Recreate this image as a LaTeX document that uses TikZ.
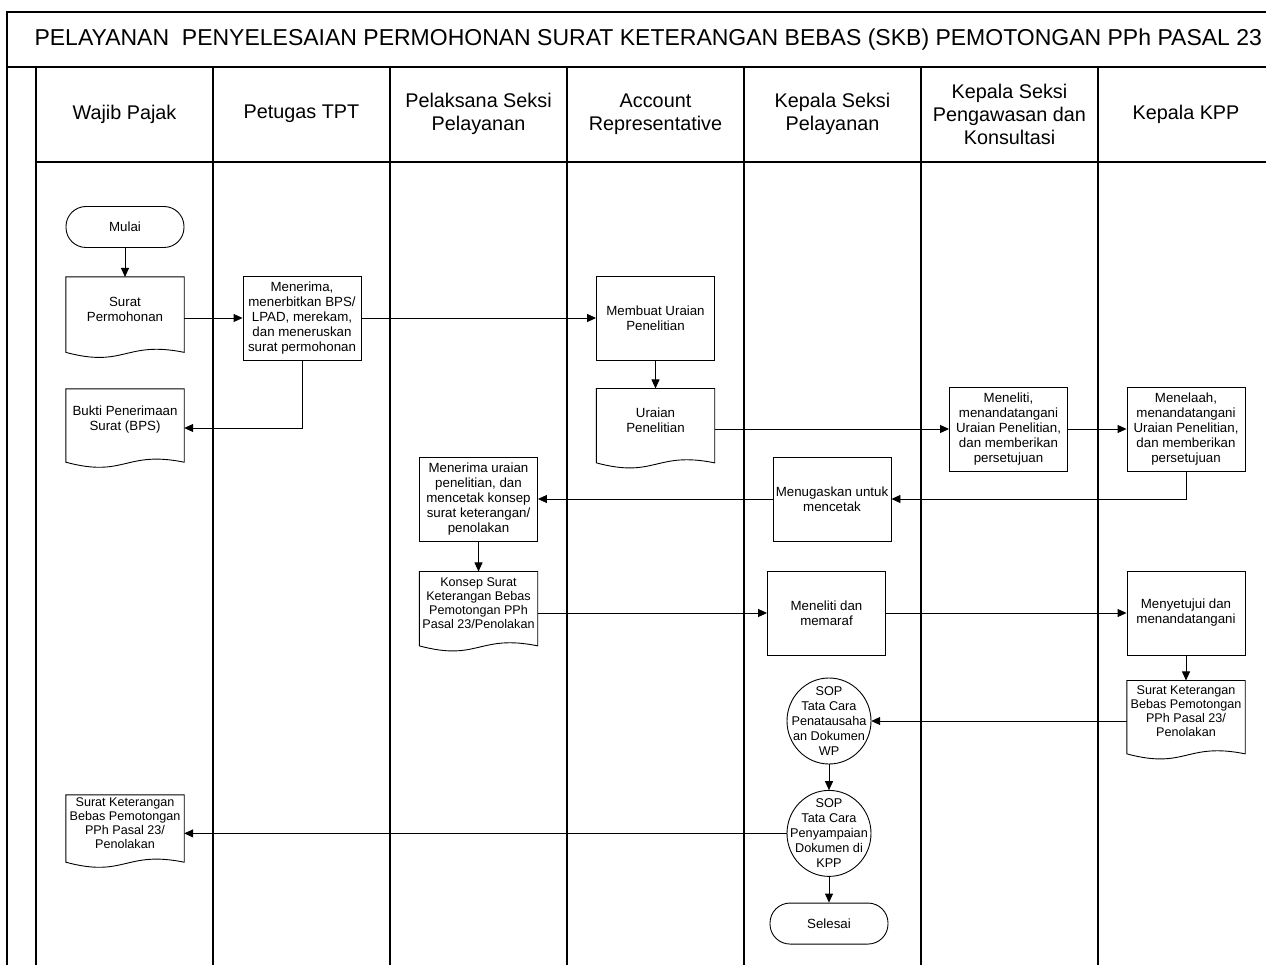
\documentclass[tikz,border=0pt]{standalone}
\usepackage{fontspec}
\setmainfont{Liberation Sans}
\usetikzlibrary{positioning,arrows.meta}

\begin{document}
\begin{tikzpicture}[
  x=1pt, y=-1pt,
  node distance=28pt,
  lane/.style={line width=1.4pt},
  proses/.style={rectangle, draw, line width=0.9pt, minimum width=118pt, minimum height=84pt,
                 align=center, inner sep=1pt, font=\fontsize{13.3}{15}\selectfont},
  dokumen/.style={rectangle, minimum width=118pt, minimum height=62pt,
                  align=center, inner sep=1pt, font=\fontsize{13.3}{15}\selectfont},
  terminal/.style={rectangle, draw, line width=0.9pt, rounded corners=20pt,
                   minimum width=118pt, minimum height=41pt, font=\fontsize{13.3}{15}\selectfont},
  sop/.style={rectangle, minimum width=84pt, minimum height=86pt, inner sep=0pt,
              align=center, font=\fontsize{12.7}{15}\selectfont},
  kepala/.style={align=center, font=\fontsize{19.8}{23}\selectfont},
  kecil/.style={font=\fontsize{12.6}{14}\selectfont},
  arr/.style={-{Triangle[length=9pt,width=8pt]}, line width=0.9pt}
]
\useasboundingbox (0,0) rectangle (1266,965);

\draw[lane] (1266,12) -- (7,12) -- (7,965);
\draw[lane] (7,67) -- (1266,67);
\draw[lane] (36,67) -- (36,965);
\draw[lane] (36,162) -- (1266,162);
\foreach \x in {213,390,567,744,921,1098}
  \draw[lane] (\x,67) -- (\x,965);

\node[anchor=west, font=\fontsize{23}{27}\selectfont] (judul) at (31,40)
  {PELAYANAN\ \ PENYELESAIAN PERMOHONAN SURAT KETERANGAN BEBAS (SKB) PEMOTONGAN PPh PASAL 23};

\node[kepala] (hwp) at (124.5,114) {Wajib Pajak};
\node[kepala] (htpt) at (301.5,114) {Petugas TPT};
\node[kepala] (hpel) at (478.5,114) {Pelaksana Seksi\\Pelayanan};
\node[kepala] (har) at (655.5,114) {Account\\Representative};
\node[kepala] (hksp) at (832.5,114) {Kepala Seksi\\Pelayanan};
\node[kepala] (hkspk) at (1009.5,114) {Kepala Seksi\\Pengawasan dan\\Konsultasi};
\node[kepala] (hkpp) at (1186,114) {Kepala KPP};

\node[terminal] (mulai) at (125,227) {Mulai};
\node[dokumen, below=29pt of mulai, minimum height=64pt] (mohon) {Surat\\Permohonan};
\node[dokumen] (bukti) at (125,420) {Bukti Penerimaan\\Surat (BPS)};
\node[proses] (tpt) at (302,318) {Menerima,\\menerbitkan BPS/\\LPAD, merekam,\\dan meneruskan\\surat permohonan};
\node[proses] (membuat) at (655.5,318) {Membuat Uraian\\Penelitian};
\node[dokumen, below=of membuat, minimum height=63pt] (uraian) {Uraian\\Penelitian};
\node[proses] (teliti) at (1008.5,429) {Meneliti,\\menandatangani\\Uraian Penelitian,\\dan memberikan\\persetujuan};
\node[proses] (telaah) at (1186,429) {Menelaah,\\menandatangani\\Uraian Penelitian,\\dan memberikan\\persetujuan};
\node[proses] (tugas) at (832,499) {Menugaskan untuk\\mencetak};
\node[proses] (terima) at (478.5,499) {Menerima uraian\\penelitian, dan\\mencetak konsep\\surat keterangan/\\penolakan};
\node[dokumen, kecil, below=30pt of terima, minimum height=63pt] (konsep) {Konsep Surat\\Keterangan Bebas\\Pemotongan PPh\\Pasal 23/Penolakan};
\node[proses] (paraf) at (826.5,613) {Meneliti dan\\memaraf};
\node[proses] (setuju) at (1186,613) {Menyetujui dan\\menandatangani};
\node[dokumen, kecil, below=25pt of setuju] (skbkpp) {Surat Keterangan\\Bebas Pemotongan\\PPh Pasal 23/\\Penolakan};
\node[sop] (sop1) at (829,721) {SOP\\Tata Cara\\Penatausaha\\an Dokumen\\WP};
\node[sop, below=26pt of sop1] (sop2) {SOP\\Tata Cara\\Penyampaian\\Dokumen di\\KPP};
\node[terminal, below=26pt of sop2] (selesai) {Selesai};
\node[dokumen, kecil, minimum height=56pt] (skbwp) at (125,823) {Surat Keterangan\\Bebas Pemotongan\\PPh Pasal 23/\\Penolakan};

\foreach \d in {mohon,bukti,uraian,konsep,skbkpp,skbwp}
  \draw[line width=0.9pt] (\d.north west) -- (\d.north east) -- ([yshift=-11pt]\d.south east)
    .. controls ([yshift=1pt]\d.south) and ([yshift=-27pt]\d.south) .. ([yshift=-11pt]\d.south west) -- cycle;
\foreach \s in {sop1,sop2}
  \draw[line width=0.9pt] (\s.center) ellipse [x radius=42pt, y radius=43pt];

\draw[arr] (mulai) -- (mohon);
\draw[arr] (mohon.east |- tpt.west) -- (tpt.west);
\draw[arr] (tpt) -- (membuat);
\draw[arr] (tpt.south) |- ([yshift=-8pt]bukti.east);
\draw[arr] (membuat) -- (uraian);
\draw[arr] (uraian.east |- teliti.west) -- (teliti.west);
\draw[arr] (teliti) -- (telaah);
\draw[arr] (telaah.south) |- (tugas.east);
\draw[arr] (tugas) -- (terima);
\draw[arr] (terima) -- (konsep);
\draw[arr] (konsep.east |- paraf.west) -- (paraf.west);
\draw[arr] (paraf) -- (setuju);
\draw[arr] (setuju) -- (skbkpp);
\draw[arr] (skbkpp.west |- sop1.east) -- (sop1.east);
\draw[arr] (sop1) -- (sop2);
\draw[arr] (sop2.west) -- (sop2.west -| skbwp.east);
\draw[arr] (sop2) -- (selesai);
\end{tikzpicture}
\end{document}
